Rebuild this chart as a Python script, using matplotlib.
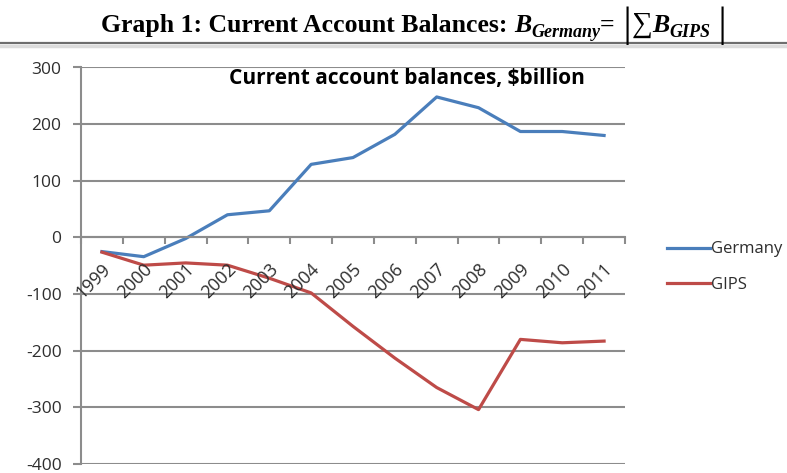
import matplotlib
matplotlib.use("Agg")
import matplotlib.pyplot as plt
from matplotlib.lines import Line2D
import matplotlib.transforms as mtransforms

years = ["1999", "2000", "2001", "2002", "2003", "2004", "2005",
         "2006", "2007", "2008", "2009", "2010", "2011"]
germany = [-25, -34, -2, 40, 47, 129, 141, 182, 248, 229, 187, 187, 180]
gips = [-26, -49, -45, -49, -72, -98, -157, -213, -265, -304, -180, -186, -183]

plt.rcParams["axes.unicode_minus"] = False

W, H = 787, 473
fig = plt.figure(figsize=(W / 100, H / 100), dpi=100)
fig.patch.set_facecolor("white")
renderer = fig.canvas.get_renderer()

# Page heading, assembled piece by piece so the subscripts and bars sit right
serif = ["Liberation Serif", "DejaVu Serif"]
big = 18.5
sub = 13
pieces = [
    ("Graph 1: Current Account Balances: ", dict(size=big, weight="bold"), 0),
    ("B", dict(size=big, weight="bold", style="italic"), 0),
    ("Germany", dict(size=sub, weight="bold", style="italic"), -5),
    ("=", dict(size=big, weight="bold"), 0),
    ("\u2009|", dict(size=30, weight="normal"), -4),
    ("\u2211", dict(size=21, weight="normal"), 0),
    ("B", dict(size=big, weight="bold", style="italic"), 0),
    ("GIPS", dict(size=sub, weight="bold", style="italic"), -5),
    ("\u2009|", dict(size=30, weight="normal"), -4),
]
base_y = 32
texts = []
widths = []
for s, kw, dy in pieces:
    t = fig.text(0, 0, s, family=serif, color="black", va="baseline", ha="left", **kw)
    widths.append(t.get_window_extent(renderer).width)
    texts.append((t, dy))
xpos = 101
for (t, dy), w in zip(texts, widths):
    t.set_position((xpos / W, 1 - (base_y - dy) / H))
    xpos += w

fig.add_artist(Line2D([0, 1], [1 - 43 / H, 1 - 43 / H], transform=fig.transFigure,
                      color="#6e6e6e", lw=1.6))
fig.add_artist(Line2D([0, 1], [1 - 46 / H, 1 - 46 / H], transform=fig.transFigure,
                      color="#dcdcdc", lw=2.5))

left, right = 81 / W, 625 / W
top, bottom = 1 - 67.5 / H, 1 - 464 / H
ax = fig.add_axes([left, bottom, right - left, top - bottom])

x = list(range(len(years)))
ax.plot(x, germany, color="#4a7ebb", lw=2.3, label="Germany", solid_joinstyle="round")
ax.plot(x, gips, color="#be4b48", lw=2.3, label="GIPS", solid_joinstyle="round")

ax.set_xlim(-0.5, len(years) - 0.5)
ax.set_ylim(-400, 300)
ax.set_yticks(range(-400, 301, 100))

grid_col = "#8c8c8c"
ax.yaxis.grid(True, color=grid_col, lw=1.5)
ax.set_axisbelow(True)

for s in ("top", "right"):
    ax.spines[s].set_visible(False)
ax.spines["left"].set_color(grid_col)
ax.spines["left"].set_linewidth(1.5)
ax.spines["bottom"].set_position(("data", 0))
ax.spines["bottom"].set_color(grid_col)
ax.spines["bottom"].set_linewidth(1.5)

sans = "Open Sans"
lab_size = 12.5
lab_col = "#2e2e2e"
ax.tick_params(axis="y", length=6, width=1.5, color=grid_col, pad=8,
               labelsize=lab_size, labelcolor=lab_col)
for lab in ax.get_yticklabels():
    lab.set_family(sans)

# category tick marks between categories, labels at category centres
ax.set_xticks([i - 0.5 for i in range(len(years) + 1)], minor=True)
ax.set_xticks(x)
ax.set_xticklabels([])
ax.tick_params(axis="x", which="minor", direction="out", length=5, width=1.5, color=grid_col)
ax.tick_params(axis="x", which="major", length=0)

offset = mtransforms.ScaledTranslation(6 / 100, -29 / 100, fig.dpi_scale_trans)
for i, yr in enumerate(years):
    ax.text(i, 0, yr, rotation=45, ha="right", va="center", rotation_mode="anchor",
            transform=ax.transData + offset, family=sans, size=13, color=lab_col)

ax.text(407 / W, 1 - 84 / H, "Current account balances, $billion", transform=fig.transFigure,
        ha="center", va="baseline", family=sans, fontweight="bold", fontsize=15, color="black")

ax.legend(loc="center left", bbox_to_anchor=(652 / W, 1 - 267 / H),
          bbox_transform=fig.transFigure, frameon=False, handlelength=2.6,
          handletextpad=0.05, labelspacing=1.15, prop=dict(family=sans, size=12))
for t in ax.get_legend().get_texts():
    t.set_color(lab_col)

fig.savefig("out.png", dpi=100, facecolor="white")
